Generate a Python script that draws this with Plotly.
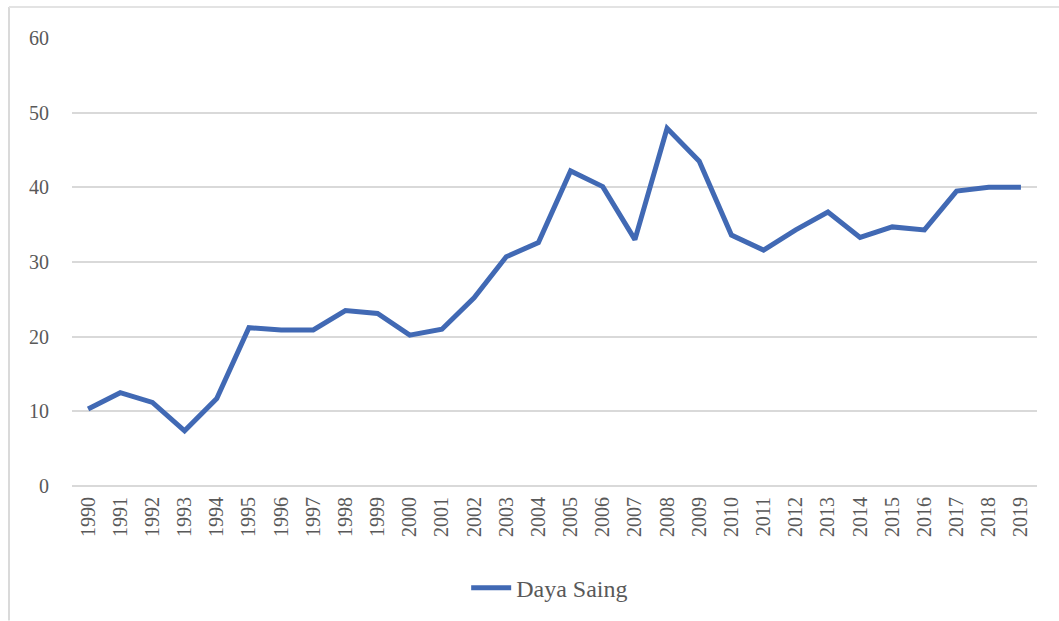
import plotly.graph_objects as go

# Daya Saing (competitiveness index), 1990-2019
years = [str(y) for y in range(1990, 2020)]
daya_saing = [10.3, 12.5, 11.2, 7.4, 11.7, 21.2, 20.9, 20.9, 23.5, 23.1,
              20.2, 21.0, 25.2, 30.7, 32.6, 42.2, 40.1, 33.0, 47.9, 43.5,
              33.6, 31.6, 34.3, 36.7, 33.3, 34.7, 34.3, 39.5, 40.0, 40.0]
y_ticks = [0, 10, 20, 30, 40, 50, 60]

LINE_BLUE = "#4169B4"
GRID = "#D9D9D9"
TEXT = "#595959"
SERIF = "Liberation Serif, Times New Roman, serif"

fig = go.Figure()
fig.add_trace(go.Scatter(
    x=years, y=daya_saing, mode="lines", name="Daya Saing",
    line=dict(color=LINE_BLUE, width=5),
))

fig.update_layout(
    width=1059, height=621,
    margin=dict(l=72, r=22, t=38, b=134),
    paper_bgcolor="white", plot_bgcolor="white",
    font=dict(family=SERIF, size=20, color=TEXT),
    showlegend=True,
    legend=dict(orientation="h", x=0.495, xanchor="center", y=-0.225, yanchor="middle",
                font=dict(family=SERIF, size=24, color=TEXT), itemwidth=40),
    xaxis=dict(type="category", range=[-0.5, len(years) - 0.5], tickangle=-90,
               showgrid=False, showline=False, ticks="", ticklabelstandoff=6,
               tickfont=dict(size=20)),
    yaxis=dict(range=[0, 60], tickvals=y_ticks, showgrid=True, gridcolor=GRID,
               gridwidth=1.5, zeroline=True, zerolinecolor=GRID, zerolinewidth=1.5,
               showline=False, ticks="", ticklabelstandoff=22, tickfont=dict(size=20)),
    shapes=[
        # chart frame (left and top edges)
        dict(type="line", xref="paper", yref="paper", x0=-0.0653, x1=-0.0653,
             y0=1.069, y1=-0.30, line=dict(color="#DADADA", width=2)),
        dict(type="line", xref="paper", yref="paper", x0=-0.0653, x1=1.03,
             y0=1.069, y1=1.069, line=dict(color="#E3E3E3", width=2)),
    ],
)

fig.write_html("out.html")
